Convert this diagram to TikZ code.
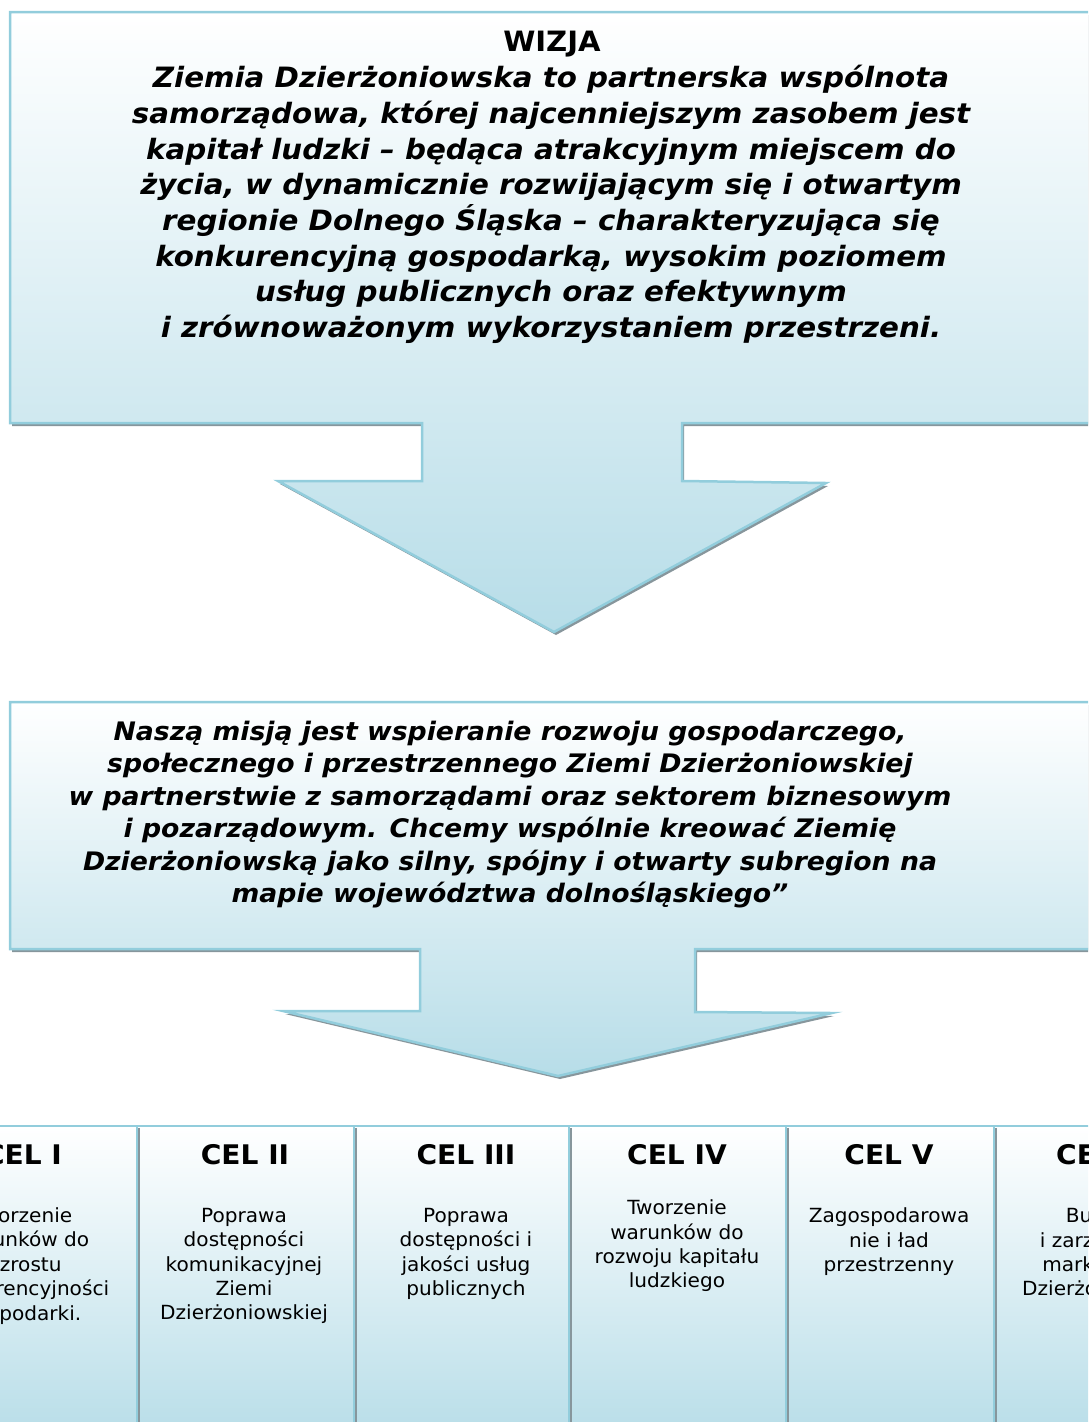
\documentclass[tikz,border=0pt]{standalone}
\usepackage{fontspec}
\setmainfont{DejaVu Sans}
\newfontfamily\widefont{DejaVu Sans}[FakeStretch=1.047]
\newfontfamily\headfont{DejaVu Sans}[FakeStretch=1.04]
\newfontfamily\bodyfont{DejaVu Sans}[FakeStretch=1.03]
\definecolor{bord}{RGB}{146,205,220}
\definecolor{fillb}{RGB}{183,221,232}
\definecolor{shad}{RGB}{135,150,156}
\tikzset{
  callout/.style={draw=bord, line width=2.5pt, top color=white, bottom color=fillb},
  shadowfill/.style={fill=shad, draw=none},
  bigtext/.style={align=center, inner sep=0pt, font=\widefont\fontsize{28}{35.7}\selectfont\bfseries\itshape},
  midtext/.style={align=center, inner sep=0pt, font=\widefont\fontsize{25.5}{32.5}\selectfont\bfseries\itshape},
  celhead/.style={inner sep=0pt, font=\headfont\fontsize{27}{30}\selectfont\bfseries},
  celbody/.style={align=center, inner sep=0pt, font=\bodyfont\fontsize{19.5}{24.4}\selectfont},
}
\begin{document}
\begin{tikzpicture}[x=1pt,y=-1pt]
\useasboundingbox (0,0) rectangle (1088,1422);
\clip (0,0) rectangle (1088,1422);
% --- vision callout ---
\fill[shadowfill,shift={(2,3)}] (10,12) -- (1100,12) -- (1100,423) -- (682,423) -- (682,481) -- (826,483) -- (554,632) -- (278,481) -- (422,481) -- (422,423) -- (10,423) -- cycle;
\path[callout] (10,12) -- (1100,12) -- (1100,423) -- (682,423) -- (682,481) -- (826,483) -- (554,632) -- (278,481) -- (422,481) -- (422,423) -- (10,423) -- cycle;
\node[font=\headfont\fontsize{28}{34}\selectfont\bfseries, inner sep=0pt] (wizja) at (552,44) {WIZJA};
\node[bigtext] (vision) at (551,204.5) {Ziemia Dzierżoniowska to partnerska wspólnota\\
samorządowa, której najcenniejszym zasobem jest\\
kapitał ludzki – będąca atrakcyjnym miejscem do\\
życia, w dynamicznie rozwijającym się i otwartym\\
regionie Dolnego Śląska – charakteryzująca się\\
konkurencyjną gospodarką, wysokim poziomem\\
usług publicznych oraz efektywnym\\
i zrównoważonym wykorzystaniem przestrzeni.};
% --- mission callout ---
\fill[shadowfill,shift={(2,3)}] (10,702) -- (1100,702) -- (1100,949) -- (695,949) -- (695,1012) -- (832,1013) -- (558,1076) -- (283,1011) -- (420,1011) -- (420,949) -- (10,949) -- cycle;
\path[callout] (10,702) -- (1100,702) -- (1100,949) -- (695,949) -- (695,1012) -- (832,1013) -- (558,1076) -- (283,1011) -- (420,1011) -- (420,949) -- (10,949) -- cycle;
\node[midtext] (mission) at (510,814.5) {Naszą misją jest wspieranie rozwoju gospodarczego,\\
społecznego i przestrzennego Ziemi Dzierżoniowskiej\\
w partnerstwie z samorządami oraz sektorem biznesowym\\
i pozarządowym. Chcemy wspólnie kreować Ziemię\\
Dzierżoniowską jako silny, spójny i otwarty subregion na\\
mapie województwa dolnośląskiego”};
% --- goal columns (drawn right to left) ---
\foreach \a/\b in {994/1222,786/994,569/786,354/569,137/354,-90/137}{
  \fill[shadowfill] (\b,1128) rectangle (\b+3,1440);
  \path[callout] (\a,1126) rectangle (\b,1440);
}
\node[celhead] (h1) at (23,1155) {CEL I};
\node[celhead] (h2) at (245,1155) {CEL II};
\node[celhead] (h3) at (466,1155) {CEL III};
\node[celhead] (h4) at (677,1155) {CEL IV};
\node[celhead] (h5) at (889,1155) {CEL V};
\node[celhead] (h6) at (1106,1155) {CEL VI};
\node[celbody] (b1) at (22.5,1266) {Tworzenie\\warunków do\\wzrostu\\konkurencyjności\\gospodarki.};
\node[celbody] (b2) at (244,1266) {Poprawa\\dostępności\\komunikacyjnej\\Ziemi\\Dzierżoniowskiej};
\node[celbody] (b3) at (466,1254) {Poprawa\\dostępności i\\jakości usług\\publicznych};
\node[celbody] (b4) at (677,1246) {Tworzenie\\warunków do\\rozwoju kapitału\\ludzkiego};
\node[celbody] (b5) at (889,1242) {Zagospodarowa\\nie i ład\\przestrzenny};
\node[celbody] (b6) at (1106,1254) {Budowa\\i zarządzanie\\marką Ziemi\\Dzierżoniowskiej};
\end{tikzpicture}
\end{document}
